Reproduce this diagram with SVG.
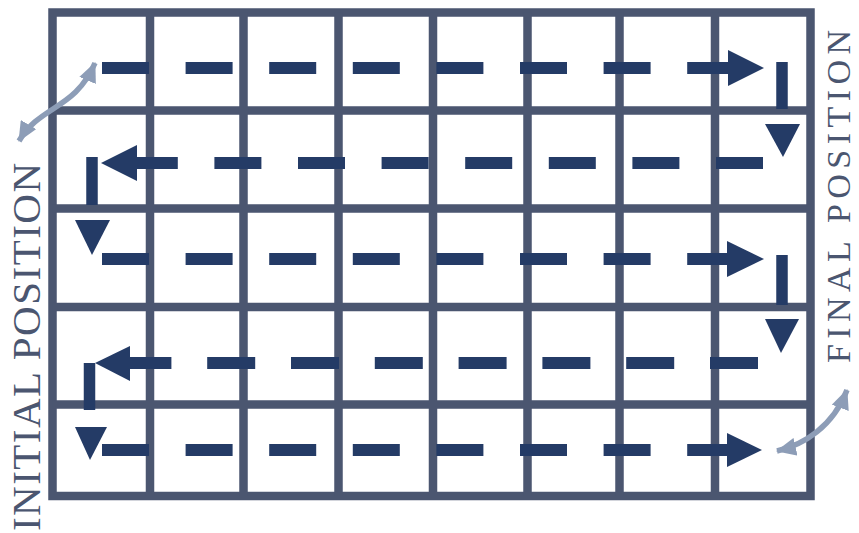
<svg xmlns="http://www.w3.org/2000/svg" width="859" height="533" viewBox="0 0 859 533">
<defs>
<style>
.grid{fill:none;stroke:#4b5670;stroke-width:8.5}
.dash{fill:none;stroke:#243b66;stroke-width:12}
.dr{stroke-dasharray:47 36.6}
.dr4{stroke-dasharray:48 35.8}
.head{fill:#243b66}
.bar{fill:none;stroke:#243b66;stroke-width:11.5}
.light{fill:none;stroke:#8d9db7;stroke-width:5.5;marker-start:url(#lh);marker-end:url(#lh)}
.lbl{font-family:"Liberation Serif","Times New Roman",serif;fill:#4b5670}
</style>
<marker id="lh" viewBox="0 0 20 18" refX="19" refY="9" markerWidth="20" markerHeight="18" markerUnits="userSpaceOnUse" orient="auto-start-reverse">
<path d="M0,0 L20,9 L0,18 z" fill="#8d9db7"/>
</marker>
</defs>
<rect width="859" height="533" fill="#fff"/>
<g id="grid">
<rect class="grid" x="52.5" y="12.5" width="758" height="483.5"/>
<path class="grid" d="M150,12.5V496 M243.5,12.5V496 M338.5,12.5V496 M433,12.5V496 M527.5,12.5V496 M619.5,12.5V496 M715,12.5V496 M52.5,110.5H810.5 M52.5,208.5H810.5 M52.5,307H810.5 M52.5,404.5H810.5"/>
</g>
<g id="connectors">
<path class="dash dr" d="M102,68H735"/>
<polygon class="head" points="728,50 764,68 728,86"/>
<path class="bar" d="M782,62V109"/>
<polygon class="head" points="765,124 800,124 783,157"/>
<path class="dash dr" d="M763,163H131"/>
<polygon class="head" points="137,145 101,163 137,181"/>
<path class="bar" d="M92,157V205"/>
<polygon class="head" points="75,220 110,220 92,255"/>
<path class="dash dr" d="M102,259H735"/>
<polygon class="head" points="727,241 764,259 727,277"/>
<path class="bar" d="M782,255V305"/>
<polygon class="head" points="765,319 799,319 781,353"/>
<path class="dash dr4" d="M758,363H123"/>
<polygon class="head" points="130,346 95,363 130,381"/>
<path class="bar" d="M89.5,363V410"/>
<polygon class="head" points="75,427 107,427 90,460"/>
<path class="dash dr" d="M102,450H735"/>
<polygon class="head" points="727,433 762,450 727,467"/>
<path class="light" d="M95,63C75,110 40,105 19,141"/>
<path class="light" d="M777,451C803,445 833,427 847,390"/>
</g>
<g id="initial-label">
<text class="lbl" font-size="41" transform="translate(40,531) rotate(-90)" textLength="368" lengthAdjust="spacing">INITIAL POSITION</text>
</g>
<g id="final-label">
<text class="lbl" font-size="34" transform="translate(850,363) rotate(-90)" textLength="333" lengthAdjust="spacing">FINAL POSITION</text>
</g>
</svg>
